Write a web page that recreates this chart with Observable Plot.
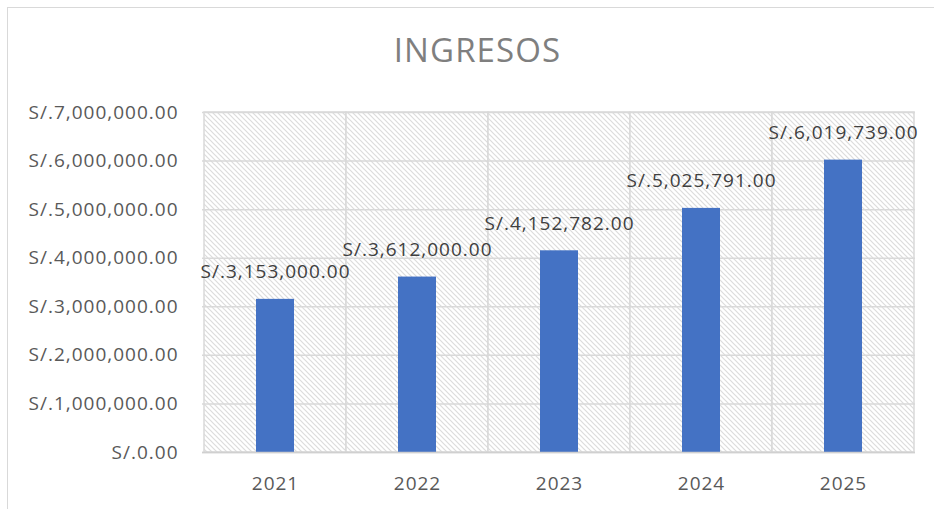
<!DOCTYPE html>
<html>
<head>
<meta charset="utf-8">
<script src="https://cdn.jsdelivr.net/npm/d3@7"></script>
<script src="https://cdn.jsdelivr.net/npm/@observablehq/plot@0.6"></script>
<style>
  html, body { margin: 0; padding: 0; background: #fff; }
  #wrap { position: relative; width: 934px; height: 509px; overflow: hidden; font-family: "Open Sans", sans-serif; }
  #frame { position: absolute; left: 7px; top: 7px; width: 1200px; height: 1200px; border: 1px solid #d9d9d9; box-sizing: border-box; }
  #title { position: absolute; left: 0; width: 955px; top: 33px; text-align: center; font-size: 33px; line-height: 33px; color: #7f7f7f; letter-spacing: 1.1px; }
  #chart { position: absolute; left: 0; top: 0; }
  #chart svg text { letter-spacing: 1px; }
</style>
</head>
<body>
<div id="wrap">
  <div id="frame"></div>
  <div id="chart"></div>
  <div id="title">INGRESOS</div>
</div>
<script>
const years = ["2021", "2022", "2023", "2024", "2025"];
const ingresos = [3153000, 3612000, 4152782, 5025791, 6019739];
const yTicks = [0, 1000000, 2000000, 3000000, 4000000, 5000000, 6000000, 7000000];

const data = years.map((y, i) => ({year: y, value: ingresos[i]}));
const money = d => "S/." + d3.format(",.2f")(d);

const plot = Plot.plot({
  width: 934,
  height: 509,
  marginTop: 112,
  marginBottom: 57,
  marginLeft: 202,
  marginRight: 19,
  style: {fontFamily: "Open Sans, sans-serif", fontSize: "19px", color: "#595959", background: "transparent"},
  x: {domain: years, padding: 0, label: null},
  y: {domain: [0, 7000000], label: null},
  marks: [
    Plot.cell(years, {x: d => d, fill: "url(#hatch)", stroke: "#d9d9d9", strokeWidth: 1.5}),
    Plot.ruleY(yTicks, {stroke: "#d9d9d9", strokeWidth: 1.5}),
    Plot.barY(data, {x: "year", y: "value", fill: "#4472c4", insetLeft: 52, insetRight: 52}),
    Plot.ruleY([0], {stroke: "#d0d0d0", strokeWidth: 1.5}),
    Plot.text(data, {x: "year", y: "value", text: d => money(d.value), lineAnchor: "bottom", dy: -21, fill: "#404040", fontSize: 19}),
    Plot.axisY({ticks: yTicks, tickSize: 0, tickPadding: 24, tickFormat: money, fontSize: 19}),
    Plot.axisX({tickSize: 0, tickPadding: 24, fontSize: 19})
  ]
});

const ns = "http://www.w3.org/2000/svg";
const defs = document.createElementNS(ns, "defs");
defs.innerHTML = `<pattern id="hatch" patternUnits="userSpaceOnUse" width="5" height="5">
  <rect width="5" height="5" fill="#ffffff"/>
  <path d="M0,0 L5,5 M-1,4 L1,6 M4,-1 L6,1" stroke="#dcdcdc" stroke-width="1.2"/>
</pattern>`;
plot.insertBefore(defs, plot.firstChild);
document.getElementById("chart").appendChild(plot);
</script>
</body>
</html>
